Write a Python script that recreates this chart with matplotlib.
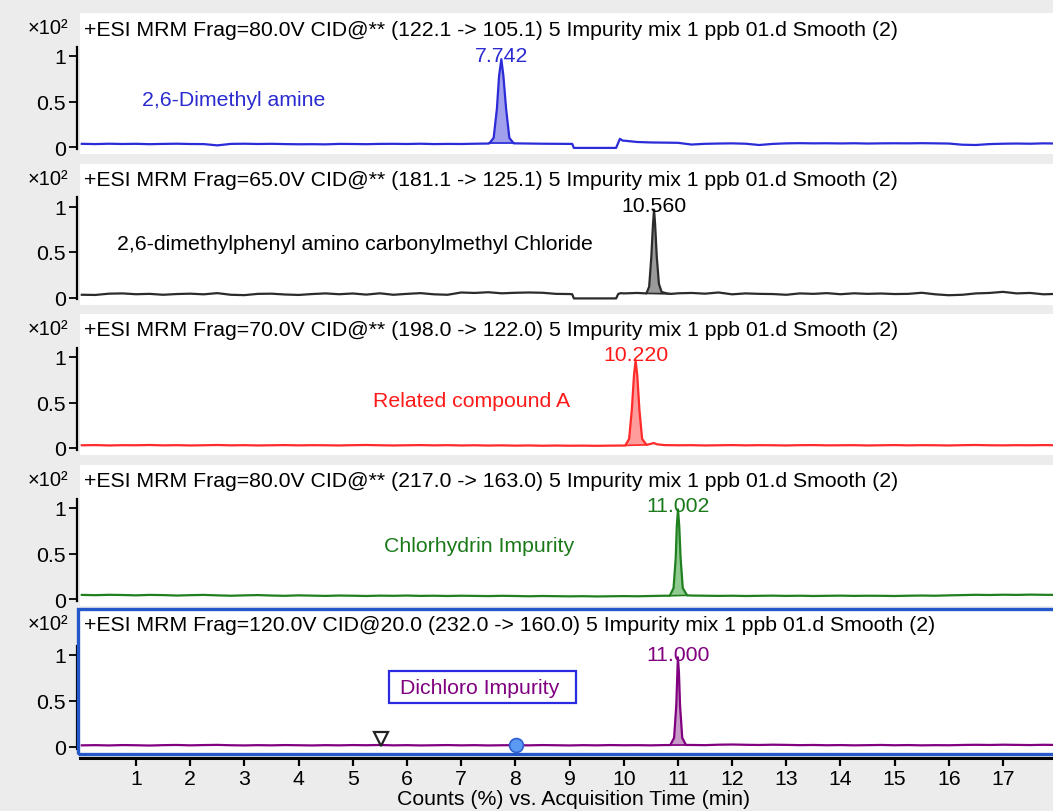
import numpy as np
import matplotlib
matplotlib.use('Agg')
import matplotlib.pyplot as plt
from matplotlib.patches import Rectangle

plt.rcParams['font.family'] = ['Liberation Sans', 'DejaVu Sans']

W, H = 1053, 812

# ---------------- data ----------------
time_grid = [0.0, 0.25, 0.5, 0.75, 1.0, 1.25, 1.5, 1.75, 2.0, 2.25, 2.5, 2.75,
             3.0, 3.25, 3.5, 3.75, 4.0, 4.25, 4.5, 4.75, 5.0, 5.25, 5.5, 5.75,
             6.0, 6.25, 6.5, 6.75, 7.0, 7.25, 7.5, 7.75, 8.0, 8.25, 8.5, 8.75,
             9.0, 9.25, 9.5, 9.75, 10.0, 10.25, 10.5, 10.75, 11.0, 11.25, 11.5, 11.75,
             12.0, 12.25, 12.5, 12.75, 13.0, 13.25, 13.5, 13.75, 14.0, 14.25, 14.5, 14.75,
             15.0, 15.25, 15.5, 15.75, 16.0, 16.25, 16.5, 16.75, 17.0, 17.25, 17.5, 17.75, 18.0]

base1 = [0.035, 0.032, 0.036, 0.033, 0.035, 0.031, 0.034, 0.036, 0.033, 0.032, 0.018, 0.034,
         0.036, 0.033, 0.035, 0.032, 0.030, 0.031, 0.029, 0.034, 0.033, 0.031, 0.034, 0.035,
         0.033, 0.036, 0.032, 0.034, 0.033, 0.036, 0.038, 0.040, 0.040, 0.038, 0.036, 0.035,
         0.034, -0.010, -0.010, -0.010, 0.070, 0.055, 0.050, 0.048, 0.046, 0.027, 0.035, 0.038,
         0.040, 0.036, 0.022, 0.034, 0.040, 0.042, 0.040, 0.041, 0.039, 0.041, 0.038, 0.040,
         0.041, 0.040, 0.042, 0.040, 0.038, 0.025, 0.022, 0.032, 0.036, 0.038, 0.036, 0.040, 0.038]
base2 = [0.030, 0.028, 0.042, 0.045, 0.036, 0.040, 0.030, 0.038, 0.042, 0.035, 0.048, 0.030,
         0.026, 0.040, 0.042, 0.033, 0.028, 0.038, 0.045, 0.036, 0.044, 0.032, 0.046, 0.030,
         0.040, 0.048, 0.035, 0.030, 0.055, 0.050, 0.058, 0.046, 0.052, 0.055, 0.052, 0.040,
         0.038, -0.010, -0.010, -0.010, 0.045, 0.050, 0.045, 0.040, 0.046, 0.050, 0.042, 0.055,
         0.035, 0.045, 0.040, 0.038, 0.030, 0.045, 0.040, 0.048, 0.036, 0.046, 0.040, 0.044,
         0.038, 0.040, 0.052, 0.035, 0.025, 0.030, 0.045, 0.050, 0.062, 0.045, 0.050, 0.035, 0.040]
base3 = [0.030, 0.032, 0.028, 0.031, 0.030, 0.033, 0.029, 0.031, 0.028, 0.030, 0.033, 0.029,
         0.031, 0.028, 0.030, 0.032, 0.029, 0.031, 0.030, 0.028, 0.031, 0.033, 0.030, 0.028,
         0.030, 0.032, 0.029, 0.031, 0.028, 0.030, 0.027, 0.029, 0.026, 0.028, 0.025, 0.027,
         0.025, 0.026, 0.024, 0.026, 0.027, 0.030, 0.045, 0.032, 0.030, 0.031, 0.028, 0.030,
         0.032, 0.029, 0.031, 0.030, 0.028, 0.031, 0.032, 0.029, 0.030, 0.031, 0.028, 0.030,
         0.032, 0.029, 0.031, 0.030, 0.028, 0.031, 0.033, 0.030, 0.029, 0.031, 0.030, 0.032, 0.030]
base4 = [0.045, 0.042, 0.046, 0.044, 0.040, 0.045, 0.043, 0.038, 0.042, 0.045, 0.040, 0.036,
         0.040, 0.043, 0.038, 0.035, 0.040, 0.037, 0.034, 0.038, 0.036, 0.033, 0.037, 0.035,
         0.038, 0.034, 0.036, 0.033, 0.036, 0.034, 0.032, 0.035, 0.033, 0.030, 0.033, 0.031,
         0.029, 0.031, 0.028, 0.030, 0.032, 0.030, 0.033, 0.036, 0.040, 0.038, 0.036, 0.034,
         0.036, 0.033, 0.035, 0.037, 0.034, 0.036, 0.033, 0.035, 0.037, 0.034, 0.036, 0.035,
         0.033, 0.036, 0.038, 0.036, 0.040, 0.043, 0.046, 0.044, 0.047, 0.045, 0.048, 0.046, 0.045]
base5 = [0.018, 0.020, 0.017, 0.021, 0.019, 0.016, 0.020, 0.022, 0.018, 0.021, 0.023, 0.019,
         0.017, 0.020, 0.018, 0.021, 0.019, 0.017, 0.020, 0.018, 0.021, 0.019, 0.022, 0.018,
         0.020, 0.017, 0.019, 0.021, 0.018, 0.020, 0.017, 0.019, 0.020, 0.018, 0.021, 0.019,
         0.017, 0.020, 0.018, 0.021, 0.019, 0.020, 0.018, 0.021, 0.020, 0.022, 0.020, 0.025,
         0.027, 0.024, 0.022, 0.025, 0.023, 0.020, 0.022, 0.019, 0.021, 0.018, 0.020, 0.022,
         0.019, 0.021, 0.018, 0.020, 0.019, 0.022, 0.024, 0.022, 0.025, 0.023, 0.021, 0.024, 0.022]

# peak shapes (time, intensity x10^2)
peak1_t = [7.52, 7.60, 7.66, 7.70, 7.742, 7.78, 7.83, 7.89, 7.97]
peak1_y = [0.040, 0.10, 0.42, 0.78, 0.965, 0.78, 0.42, 0.10, 0.040]
peak2_t = [10.42, 10.47, 10.51, 10.54, 10.56, 10.58, 10.61, 10.65, 10.70, 10.80, 10.88]
peak2_y = [0.045, 0.12, 0.45, 0.80, 0.965, 0.80, 0.45, 0.15, 0.060, 0.045, 0.040]
peak3_t = [10.03, 10.10, 10.15, 10.19, 10.22, 10.25, 10.29, 10.34, 10.42]
peak3_y = [0.028, 0.10, 0.42, 0.80, 0.960, 0.80, 0.42, 0.10, 0.035]
peak4_t = [10.85, 10.92, 10.96, 10.98, 11.002, 11.025, 11.05, 11.09, 11.17]
peak4_y = [0.036, 0.12, 0.45, 0.80, 0.985, 0.80, 0.45, 0.12, 0.040]
peak5_t = [10.86, 10.93, 10.97, 10.99, 11.000, 11.02, 11.04, 11.08, 11.15]
peak5_y = [0.021, 0.10, 0.45, 0.80, 0.975, 0.80, 0.45, 0.10, 0.022]

# extra detail points (signal gap / step)
extra1_t = [9.05, 9.08, 9.86, 9.93, 9.98]
extra1_y = [0.034, -0.010, -0.010, 0.090, 0.070]
extra2_t = [9.05, 9.08, 9.86, 9.90, 9.95]
extra2_y = [0.036, -0.010, -0.010, 0.040, 0.048]
extra3_t = [10.55, 10.62]
extra3_y = [0.055, 0.040]

titles = [
    "+ESI MRM Frag=80.0V CID@** (122.1 -> 105.1) 5 Impurity mix 1 ppb 01.d Smooth (2)",
    "+ESI MRM Frag=65.0V CID@** (181.1 -> 125.1) 5 Impurity mix 1 ppb 01.d Smooth (2)",
    "+ESI MRM Frag=70.0V CID@** (198.0 -> 122.0) 5 Impurity mix 1 ppb 01.d Smooth (2)",
    "+ESI MRM Frag=80.0V CID@** (217.0 -> 163.0) 5 Impurity mix 1 ppb 01.d Smooth (2)",
    "+ESI MRM Frag=120.0V CID@20.0 (232.0 -> 160.0) 5 Impurity mix 1 ppb 01.d Smooth (2)",
]
compounds = ["2,6-Dimethyl amine",
             "2,6-dimethylphenyl amino carbonylmethyl Chloride",
             "Related compound A",
             "Chlorhydrin Impurity",
             "Dichloro Impurity"]
peak_labels = ["7.742", "10.560", "10.220", "11.002", "11.000"]
peak_rt = [7.742, 10.560, 10.220, 11.002, 11.000]
x_label = "Counts (%) vs. Acquisition Time (min)"

marker_tri = (5.52, 0.09)
marker_dot = (8.02, 0.025)

y_ticks = [0, 0.5, 1]
y_ticklabels = ["0", "0.5", "1"]
x_ticks = list(range(1, 18))

# ---------------- styles ----------------
line_colors = ['#2b2bd8', '#2b2b2b', '#ff2a2a', '#208020', '#800080']
fill_colors = ['#a0a0ec', '#9a9a9a', '#ff9c9c', '#8fca8f', '#c89ac8']
text_colors = ['#2b2bd0', '#000000', '#ff1a1a', '#1a7a1a', '#800080']

bases = [base1, base2, base3, base4, base5]
peaks_t = [peak1_t, peak2_t, peak3_t, peak4_t, peak5_t]
peaks_y = [peak1_y, peak2_y, peak3_y, peak4_y, peak5_y]
extras_t = [extra1_t, extra2_t, extra3_t, [], []]
extras_y = [extra1_y, extra2_y, extra3_y, [], []]

# pixel geometry (top, bottom of white panel, pixel of y=0, px per unit)
panel_px = [(14, 155, 148, 91), (164.5, 305.5, 298.5, 91), (315, 456, 449, 91),
            (465.5, 606.5, 600, 91), (610, 755, 748, 92)]
label_pos = [(1.11, 0.52), (0.65, 0.59), (5.37, 0.52), (5.58, 0.59), (5.87, 0.65)]
peak_label_y = [1.01, 1.01, 1.03, 1.03, 1.00]

x_left_px, x0_px, ppu_x = 80, 81.8, 54.19
xlim = ((x_left_px - x0_px) / ppu_x, (W - x0_px) / ppu_x)

BG = '#ececec'
fig = plt.figure(figsize=(W / 100, H / 100), dpi=100, facecolor=BG)

def fx(px):
    return px / W

def fy(py):
    return 1 - py / H

FS = 15.3
for i in range(5):
    top, bot, y0, ppu = panel_px[i]
    ax = fig.add_axes([fx(x_left_px), fy(bot), fx(W - x_left_px), (bot - top) / H])
    ax.set_facecolor('white')
    ax.set_xlim(*xlim)
    ax.set_ylim(-(bot - y0) / ppu, (y0 - top) / ppu)
    for s in ['top', 'right', 'bottom']:
        ax.spines[s].set_visible(False)
    ax.spines['left'].set_bounds(-0.02, 1.1)
    ax.spines['left'].set_linewidth(1.6)
    ax.spines['left'].set_position(('outward', 2))
    ax.spines['left'].set_zorder(12)
    ax.set_xticks([])
    ax.set_yticks(y_ticks)
    ax.set_yticklabels(y_ticklabels, fontsize=FS)
    ax.tick_params(axis='y', length=6, width=1.3, pad=2)

    # merge data
    bt = np.array(time_grid)
    by = np.array(bases[i])
    pt = np.array(peaks_t[i])
    py = np.array(peaks_y[i])
    et = np.array(extras_t[i], dtype=float)
    ey = np.array(extras_y[i], dtype=float)
    keep = (bt < pt[0]) | (bt > pt[-1])
    tt = np.concatenate([bt[keep], pt, et])
    yy = np.concatenate([by[keep], py, ey])
    order = np.argsort(tt)
    tt, yy = tt[order], yy[order]

    # fill peak
    base_line = np.interp(pt, [pt[0], pt[-1]], [py[0], py[-1]])
    ax.fill_between(pt, py, base_line, color=fill_colors[i], lw=0, zorder=2)
    ax.plot(pt, base_line, color=line_colors[i], lw=1.2, zorder=3)
    ax.plot(tt, yy, color=line_colors[i], lw=1.6, zorder=4, solid_joinstyle='round')

    ax.text(peak_rt[i], peak_label_y[i], peak_labels[i], color=text_colors[i],
            fontsize=FS, ha='center', va='center', zorder=5)
    ax.text(label_pos[i][0], label_pos[i][1], compounds[i], color=text_colors[i],
            fontsize=FS, ha='left', va='center')
    if i == 4:
        ax.plot([marker_tri[0]], [marker_tri[1]], marker='v', ms=10, mfc='white',
                mec='#222222', mew=1.6, zorder=6)
        ax.plot([marker_dot[0]], [marker_dot[1]], marker='o', ms=10, mfc='#5a9af2',
                mec='#2f5fd0', mew=1.2, zorder=6)

    # title and scale label
    fig.text(fx(84), fy(top + 16), titles[i], fontsize=FS, ha='left', va='center')
    fig.text(fx(68), fy(top + 15), "×10²", fontsize=14.5, ha='right', va='center')

# box around "Dichloro Impurity"
fig.patches.append(Rectangle((fx(389), fy(704)), fx(576 - 389), (704 - 672) / H,
                             transform=fig.transFigure, fill=False,
                             edgecolor='#2a2ae0', lw=1.6, zorder=10))
# blue frame around last panel
fig.patches.append(Rectangle((fx(78), fy(755)), fx(W + 10 - 78), (755 - 610) / H,
                             transform=fig.transFigure, fill=False,
                             edgecolor='#2457c8', lw=2.4, zorder=0.5))

# bottom time axis
axx = fig.add_axes([fx(x_left_px), fy(759), fx(W - x_left_px), 0.0001])
axx.set_facecolor('none')
axx.set_xlim(*xlim)
axx.set_yticks([])
for s in ['top', 'right', 'left']:
    axx.spines[s].set_visible(False)
axx.spines['bottom'].set_linewidth(2.2)
axx.set_xticks(x_ticks)
axx.set_xticklabels([str(v) for v in x_ticks], fontsize=FS)
axx.tick_params(axis='x', length=6, width=1.6, pad=2)
fig.text(fx(574), fy(800), x_label, fontsize=FS, ha='center', va='center')

fig.savefig('out.png', dpi=100, facecolor=BG)
